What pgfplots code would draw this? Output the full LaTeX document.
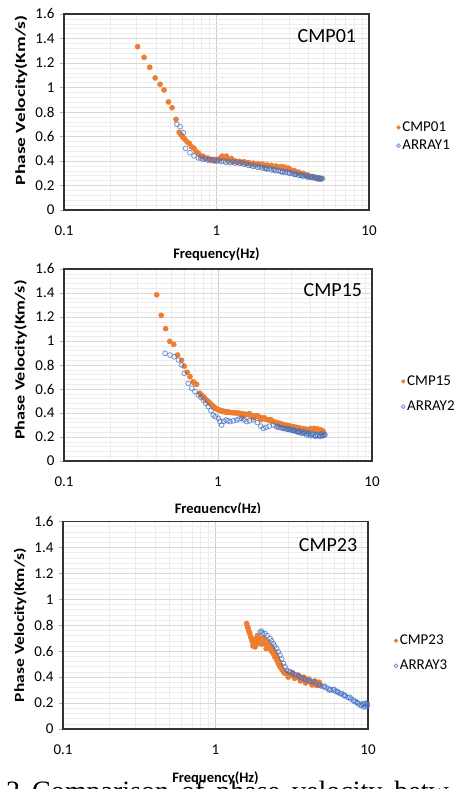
\documentclass[border=0pt]{standalone}
\usepackage{fontspec}
\setmainfont{Carlito}
\newfontfamily\capfont{Liberation Serif}
\usepackage{pgfplots}
\pgfplotsset{compat=1.18}

\definecolor{cmporange}{HTML}{ED7D31}
\definecolor{arrayblue}{HTML}{4472C4}
\definecolor{majgrid}{HTML}{D9D9D9}
\definecolor{mingrid}{HTML}{EDEDED}

\pgfplotsset{every axis/.append style={
    scale only axis,
    anchor=south west,
    xmin=0.1, xmax=10,
    ymin=0, ymax=1.6,
    xtick={0.1,1,10}, xticklabels={0.1,1,10},
    ytick={0,0.2,0.4,0.6,0.8,1,1.2,1.4,1.6},
    minor y tick num=4,
    grid=both,
    major x grid style={draw=gray!40, line width=0.7pt},
    minor x grid style={draw=mingrid, line width=0.6pt},
    major y grid style={draw=majgrid, line width=0.6pt},
    minor y grid style={draw=mingrid, line width=0.5pt},
    axis line style={black!80, line width=1.4pt},
    tick label style={font=\fontsize{15}{17}\selectfont},
    xtick style={draw=none},
    ytick style={draw=gray!60, line width=0.5pt},
    minor tick length=0pt, major tick length=4pt,
    tick align=outside, tick pos=left,
    xticklabel style={yshift=-8pt},
    yticklabel style={xshift=-2pt},
    xlabel style={font=\bfseries\fontsize{14.5}{16}\selectfont, anchor=center},
    ylabel style={font=\bfseries\fontsize{14}{16}\selectfont, anchor=center},
    legend style={draw=none, fill=none, anchor=west,
      font=\fontsize{15}{17}\selectfont, cells={anchor=west}},
  }}
\pgfplotsset{
  legend image code/.code={\draw[mark repeat=2,mark phase=2,#1,mark size=1.9pt]
    plot coordinates {(0pt,0pt)(3pt,0pt)(6pt,0pt)};},
}

\begin{document}
\begin{tikzpicture}
\useasboundingbox (0,0) rectangle (456pt,789pt);
\clip (0,0) rectangle (456pt,789pt);

% ---------------- CMP01 ----------------
\begin{axis}[xmode=log, /pgf/number format/assume math mode=true,
  at={(64pt,579pt)}, width=305pt, height=196pt,
  xlabel={Frequency(Hz)}, ylabel={Phase Velocity(Km/s)},
  xlabel style={at={(axis description cs:0.5,-0.224)}},
  ylabel style={at={(axis description cs:-0.141,0.56)}, xscale=1.38},
  legend style={at={(axis description cs:1.08,0.375)}, row sep=3pt}]
\addplot[only marks, mark=*, mark size=2.6pt, draw=cmporange, fill=cmporange] coordinates {
(0.304,1.333)(0.335,1.246)(0.365,1.165)(0.396,1.078)(0.427,1.026)(0.453,0.980)
(0.484,0.882)(0.511,0.835)(0.543,0.740)(0.569,0.634)(0.585,0.615)(0.60,0.595)
(0.62,0.578)(0.642,0.556)(0.664,0.544)(0.687,0.516)(0.711,0.504)(0.736,0.476)
(0.762,0.464)(0.789,0.441)(0.816,0.439)(0.845,0.421)(0.874,0.424)(0.905,0.408)
(0.937,0.412)(0.97,0.401)(1.004,0.414)(1.039,0.416)(1.075,0.429)(1.113,0.426)
(1.152,0.432)(1.192,0.411)(1.234,0.409)(1.277,0.396)(1.322,0.402)(1.368,0.391)
(1.416,0.397)(1.466,0.386)(1.517,0.394)(1.570,0.381)(1.625,0.387)(1.682,0.376)
(1.741,0.382)(1.802,0.372)(1.865,0.377)(1.930,0.368)(1.998,0.374)(2.068,0.362)
(2.140,0.368)(2.215,0.358)(2.293,0.364)(2.373,0.354)(2.456,0.359)(2.542,0.348)
(2.631,0.354)(2.723,0.342)(2.818,0.344)(2.917,0.331)(3.019,0.334)(3.125,0.318)
(3.234,0.322)(3.347,0.308)(3.464,0.309)(3.586,0.296)(3.711,0.299)(3.841,0.284)
(3.975,0.286)(4.114,0.271)(4.258,0.274)(4.407,0.261)(4.562,0.264)(4.721,0.252)
(4.85,0.257)(1.09,0.440)(1.16,0.440)(1.25,0.420)(2.75,0.352)(2.95,0.343)
};
\addlegendentry{CMP01}
\addplot[only marks, mark=o, mark size=2.4pt, draw=arrayblue, draw opacity=0.75, line width=0.8pt] coordinates {
(0.55,0.700)(0.577,0.680)(0.606,0.631)(0.628,0.503)(0.67,0.468)(0.712,0.441)
(0.76,0.425)(0.789,0.424)(0.816,0.414)(0.845,0.419)(0.874,0.408)(0.905,0.414)
(0.937,0.403)(0.97,0.409)(1.004,0.399)(1.039,0.404)(1.075,0.394)(1.113,0.400)
(1.152,0.390)(1.192,0.396)(1.234,0.386)(1.277,0.393)(1.322,0.383)(1.368,0.390)
(1.416,0.380)(1.466,0.386)(1.517,0.374)(1.570,0.377)(1.625,0.364)(1.682,0.367)
(1.741,0.356)(1.802,0.360)(1.865,0.348)(1.930,0.353)(1.998,0.342)(2.068,0.346)
(2.140,0.334)(2.215,0.338)(2.293,0.327)(2.373,0.332)(2.456,0.320)(2.542,0.324)
(2.631,0.313)(2.723,0.317)(2.818,0.306)(2.917,0.311)(3.019,0.299)(3.125,0.303)
(3.234,0.291)(3.347,0.295)(3.464,0.283)(3.586,0.287)(3.711,0.276)(3.841,0.281)
(3.975,0.270)(4.114,0.275)(4.258,0.264)(4.407,0.269)(4.562,0.258)(4.721,0.263)
(4.85,0.253)(4.95,0.258)(3.9,0.276)(4.2,0.268)(4.5,0.262)(4.8,0.256)(4.6,0.255)
(4.0,0.268)(3.6,0.280)(3.3,0.290)(3.0,0.302)(2.7,0.310)(2.4,0.325)(2.1,0.340)
};
\addlegendentry{ARRAY1}
\node[font=\fontsize{20}{24}\selectfont] at (rel axis cs:0.862,0.888) {CMP01};
\end{axis}

\fill[white] (0,276pt) rectangle (456pt,528pt);

% ---------------- CMP15 ----------------
\begin{axis}[xmode=log, /pgf/number format/assume math mode=true,
  at={(64pt,328pt)}, width=308pt, height=192pt,
  xlabel={Frequency(Hz)}, ylabel={Phase Velocity(Km/s)},
  xlabel style={at={(axis description cs:0.5,-0.25)}},
  ylabel style={at={(axis description cs:-0.141,0.526)}, xscale=1.30},
  legend style={at={(axis description cs:1.085,0.349)}, row sep=10pt}]
\addplot[only marks, mark=*, mark size=2.6pt, draw=cmporange, fill=cmporange] coordinates {
(0.400,1.385)(0.428,1.214)(0.457,1.103)(0.486,0.997)(0.516,0.972)(0.547,0.883)
(0.580,0.840)(0.604,0.790)(0.632,0.739)(0.658,0.703)(0.690,0.660)(0.708,0.645)
(0.727,0.639)(0.762,0.565)(0.775,0.550)(0.789,0.545)(0.803,0.535)(0.816,0.525)
(0.830,0.515)(0.845,0.505)(0.860,0.497)(0.874,0.488)(0.890,0.480)(0.905,0.470)
(0.921,0.462)(0.937,0.452)(0.953,0.443)(0.970,0.437)(0.987,0.432)(1.004,0.427)
(1.021,0.423)(1.039,0.420)(1.057,0.418)(1.075,0.415)(1.094,0.412)(1.113,0.410)
(1.132,0.409)(1.152,0.407)(1.172,0.406)(1.192,0.405)(1.234,0.403)(1.277,0.401)
(1.322,0.400)(1.368,0.398)(1.416,0.395)(1.466,0.392)(1.517,0.388)(1.570,0.386)
(1.625,0.382)(1.682,0.378)(1.741,0.374)(1.802,0.370)(1.865,0.364)(1.930,0.358)
(1.998,0.352)(2.068,0.346)(2.140,0.340)(2.215,0.335)(2.293,0.328)(2.373,0.322)
(2.456,0.317)(2.542,0.312)(2.631,0.306)(2.723,0.300)(2.818,0.296)(2.917,0.292)
(3.019,0.288)(3.125,0.284)(3.234,0.280)(3.347,0.276)(3.464,0.272)(3.586,0.268)
(3.711,0.265)(3.841,0.262)(3.975,0.260)(4.114,0.258)(4.258,0.255)(4.407,0.252)
(4.562,0.248)(4.721,0.244)(4.850,0.238)
(2.5,0.300)(2.7,0.285)(2.9,0.275)(3.1,0.270)(3.3,0.260)(3.5,0.250)(3.8,0.245)
(4.0,0.270)(4.2,0.272)(4.4,0.268)(4.6,0.262)(4.8,0.250)(3.2,0.255)(1.45,0.370)
(1.7,0.360)(1.9,0.345)(1.6,0.395)(1.8,0.378)(2.2,0.345)(2.0,0.360)
};
\addlegendentry{CMP15}
\addplot[only marks, mark=o, mark size=2.4pt, draw=arrayblue, draw opacity=0.75, line width=0.8pt] coordinates {
(0.453,0.897)(0.488,0.883)(0.520,0.869)(0.553,0.842)(0.580,0.800)(0.604,0.731)
(0.641,0.647)(0.675,0.606)(0.709,0.578)(0.745,0.550)(0.775,0.530)(0.803,0.508)
(0.835,0.480)(0.865,0.453)(0.900,0.420)(0.931,0.383)(0.960,0.370)(1.005,0.356)
(1.030,0.330)(1.057,0.300)(1.090,0.330)(1.128,0.342)(1.160,0.335)(1.197,0.328)
(1.260,0.335)(1.322,0.342)(1.370,0.350)(1.425,0.356)(1.480,0.345)(1.535,0.328)
(1.600,0.335)(1.694,0.342)(1.800,0.320)(1.900,0.290)(1.968,0.272)(2.050,0.280)
(2.150,0.290)(2.287,0.300)(2.450,0.290)(2.655,0.272)(2.850,0.262)(3.080,0.253)
(3.300,0.240)(3.500,0.230)(3.770,0.217)(4.000,0.210)(4.300,0.205)(4.590,0.203)
(4.800,0.210)(4.950,0.217)
(2.40,0.285)(2.48,0.280)(2.57,0.276)(2.66,0.272)(2.75,0.268)(2.85,0.264)
(2.95,0.259)(3.05,0.255)(3.16,0.250)(3.27,0.246)(3.38,0.242)(3.50,0.238)
(3.62,0.233)(3.75,0.228)(3.88,0.224)(4.02,0.220)(4.16,0.217)(4.30,0.214)
(4.45,0.212)(4.60,0.212)(4.76,0.214)(4.90,0.222)(4.70,0.226)(4.40,0.222)
(4.10,0.228)(3.85,0.235)(3.60,0.242)(3.35,0.250)(3.10,0.262)(2.88,0.270)
};
\addlegendentry{ARRAY2}
\node[font=\fontsize{20}{24}\selectfont] at (rel axis cs:0.873,0.89) {CMP15};
\end{axis}

\fill[white] (0,200pt) rectangle (456pt,276pt);

\node[anchor=base west, inner sep=0pt, font=\capfont\fontsize{28}{30}\selectfont]
  at (6pt,-12pt) {2\hspace{12pt}Comparison\hspace{12pt}of\hspace{12pt}phase\hspace{12pt}velocity\hspace{12pt}betw};

% ---------------- CMP23 ----------------
\begin{axis}[xmode=log, /pgf/number format/assume math mode=true,
  at={(63pt,60pt)}, width=305pt, height=207.5pt,
  xlabel={Frequency(Hz)}, ylabel={Phase Velocity(Km/s)},
  xlabel style={at={(axis description cs:0.5,-0.235)}},
  ylabel style={at={(axis description cs:-0.141,0.5)}, xscale=1.25},
  legend style={at={(axis description cs:1.075,0.365)}, row sep=10pt}]
\addplot[only marks, mark=*, mark size=2.6pt, draw=cmporange, fill=cmporange] coordinates {
(1.60,0.813)(1.62,0.790)(1.64,0.774)(1.66,0.750)(1.68,0.736)(1.70,0.710)
(1.73,0.685)(1.75,0.670)(1.78,0.660)(1.82,0.659)(1.82,0.633)(1.86,0.698)
(1.90,0.680)(1.96,0.659)(1.96,0.690)(2.00,0.700)(2.06,0.672)(2.06,0.700)
(2.10,0.660)(2.17,0.646)(2.20,0.670)(2.25,0.630)(2.28,0.621)(2.33,0.600)
(2.39,0.582)(2.45,0.555)(2.52,0.531)(2.58,0.505)(2.65,0.479)(2.72,0.460)
(2.79,0.441)(2.90,0.430)(3.00,0.423)(3.10,0.415)(3.24,0.408)(3.40,0.400)
(3.58,0.390)(3.75,0.380)(3.96,0.372)(4.15,0.365)(4.38,0.356)(4.55,0.350)
(4.72,0.346)(1.72,0.700)(1.76,0.640)(1.80,0.680)(1.85,0.650)(1.88,0.720)
(1.93,0.700)(2.02,0.655)(2.12,0.690)(2.15,0.620)(2.30,0.640)(2.36,0.620)
(2.42,0.600)(2.48,0.575)(2.55,0.550)(2.62,0.520)(2.68,0.490)(2.76,0.455)
(2.84,0.430)(3.00,0.400)(3.20,0.435)(3.30,0.390)(3.50,0.415)(3.60,0.370)
(3.80,0.400)(3.90,0.355)(4.10,0.385)(4.30,0.340)(4.50,0.370)(4.60,0.335)
(4.80,0.360)(4.85,0.340)
};
\addlegendentry{CMP23}
\addplot[only marks, mark=o, mark size=2.4pt, draw=arrayblue, draw opacity=0.75, line width=0.8pt] coordinates {
(1.96,0.749)(2.00,0.755)(2.03,0.740)(2.11,0.736)(2.18,0.720)(2.28,0.698)
(2.33,0.680)(2.39,0.659)(2.45,0.640)(2.52,0.621)(2.58,0.595)(2.65,0.569)
(2.72,0.540)(2.79,0.505)(2.86,0.480)(2.93,0.454)(3.00,0.445)(3.08,0.441)
(3.20,0.430)(3.30,0.420)(3.41,0.415)(3.55,0.405)(3.65,0.395)(3.77,0.390)
(3.90,0.380)(4.05,0.372)(4.20,0.368)(4.38,0.364)(4.55,0.355)(4.75,0.340)
(4.90,0.333)(5.09,0.326)(5.30,0.318)(5.50,0.310)(5.70,0.305)(5.93,0.300)
(6.15,0.290)(6.40,0.280)(6.60,0.272)(6.89,0.262)(7.10,0.255)(7.40,0.242)
(7.70,0.232)(8.01,0.223)(8.30,0.210)(8.60,0.195)(8.87,0.185)(9.10,0.180)
(9.30,0.190)(9.55,0.198)(9.70,0.172)(9.85,0.200)(9.90,0.180)
(5.20,0.330)(5.60,0.300)(6.00,0.305)(6.30,0.290)(6.70,0.275)(7.00,0.260)
(7.60,0.245)(8.10,0.215)(8.50,0.205)(9.20,0.195)(9.40,0.170)(9.80,0.190)
};
\addlegendentry{ARRAY3}
\node[font=\fontsize{20}{24}\selectfont] at (rel axis cs:0.869,0.887) {CMP23};
\end{axis}
\end{tikzpicture}
\end{document}
